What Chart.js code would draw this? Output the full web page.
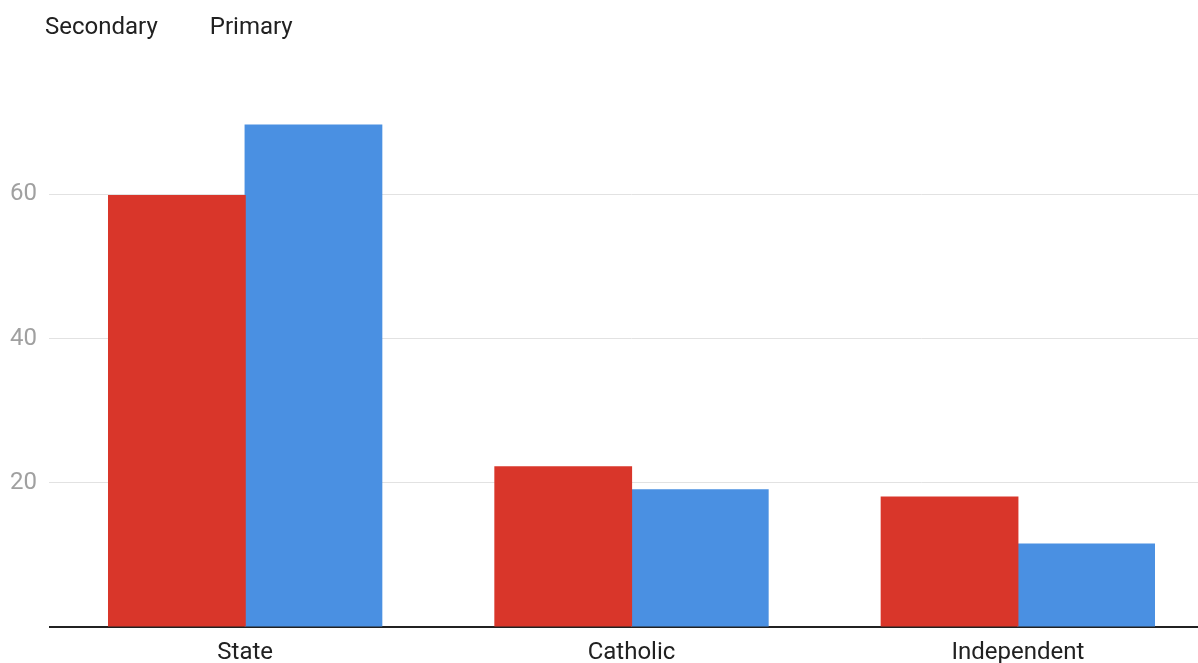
<!DOCTYPE html>
<html>
<head>
<meta charset="utf-8">
<script src="https://cdn.jsdelivr.net/npm/chart.js"></script>
<style>
  html, body { margin: 0; padding: 0; overflow: hidden; background: #fff; }
  canvas { display: block; }
</style>
</head>
<body>
<canvas id="chart" width="1211" height="663"></canvas>
<script>
const categories = ["State", "Catholic", "Independent"];
const seriesNames = ["Secondary", "Primary"];
const secondaryValues = [59.8, 22.2, 18.0];
const primaryValues = [69.6, 19.0, 11.5];
const barColors = ["#d9362a", "#4a90e2"];
const yMax = 80;
const yStep = 20;

const myChart = new Chart("chart", {
  type: "bar",
  data: {
    labels: categories,
    datasets: [
      { label: seriesNames[0], data: secondaryValues, backgroundColor: barColors[0] },
      { label: seriesNames[1], data: primaryValues, backgroundColor: barColors[1] }
    ]
  },
  options: {
    responsive: false,
    animation: false,
    devicePixelRatio: 1,
    layout: { padding: { left: -7, top: 12, right: 0, bottom: 0 } },
    datasets: {
      bar: { categoryPercentage: 0.707, barPercentage: 1, borderWidth: 0, inflateAmount: 0.6 }
    },
    plugins: {
      tooltip: { enabled: false },
      legend: {
        position: "top",
        align: "start",
        labels: {
          font: { family: "Roboto", size: 24 },
          color: "#212121",
          padding: 4,
          boxWidth: 36,
          boxHeight: 24,
          generateLabels: (chart) => {
            const items = Chart.defaults.plugins.legend.labels.generateLabels(chart);
            items.forEach(it => {
              it.fillStyle = "rgba(0,0,0,0)";
              it.strokeStyle = "rgba(0,0,0,0)";
              it.lineWidth = 0;
            });
            return items;
          }
        }
      }
    },
    scales: {
      x: {
        z: 1,
        grid: { display: false, drawTicks: false },
        border: { display: true, color: "#212121", width: 2 },
        ticks: {
          font: { family: "Roboto", size: 24 },
          color: "#212121",
          padding: 12
        },
        afterFit: (scale) => { scale.height = 36; }
      },
      y: {
        min: 0,
        max: yMax,
        border: { display: false },
        grid: {
          color: (c) => c.tick && c.tick.value === 0 ? "rgba(0,0,0,0)" : "#e2e2e2",
          tickColor: (c) => c.tick && c.tick.value === 0 ? "#212121" : "#e2e2e2",
          lineWidth: (c) => c.tick && c.tick.value === 0 ? 2 : 1,
          tickLength: 3,
          drawTicks: true
        },
        ticks: {
          stepSize: yStep,
          font: { family: "Roboto", size: 24 },
          color: "#a0a0a0",
          padding: 12,
          callback: (v) => v === yMax ? null : (v === 0 ? "" : String(v))
        },
        afterFit: (scale) => { scale.width = 59; }
      }
    }
  }
});
</script>
</body>
</html>
